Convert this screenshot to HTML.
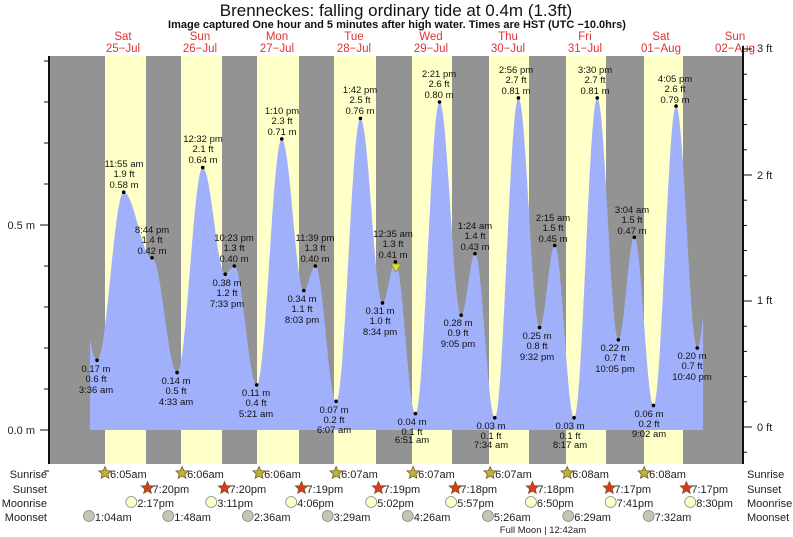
<!DOCTYPE html>
<html><head><meta charset="utf-8"><style>
html,body{margin:0;padding:0;background:#fff}
svg{display:block;font-family:"Liberation Sans",sans-serif}
.l{font-size:9.5px;fill:#111;text-anchor:middle}
.d{font-size:11.5px;fill:#d33;text-anchor:middle}
.b{font-size:11px;fill:#222}
</style></head><body>
<svg id="s" width="793" height="537" viewBox="0 0 793 537" xmlns="http://www.w3.org/2000/svg">
<rect x="49" y="56" width="694" height="408" fill="#939393"/>
<g fill="#ffffc8">
<rect x="105" y="56" width="41" height="408"/><rect x="181" y="56" width="41" height="408"/>
<rect x="257" y="56" width="42" height="408"/><rect x="334" y="56" width="42" height="408"/>
<rect x="412" y="56" width="40" height="408"/><rect x="489" y="56" width="40" height="408"/>
<rect x="566" y="56" width="40" height="408"/><rect x="644" y="56" width="39" height="408"/>
</g>
<path id="tide" fill="#a0b0fb" d=""/>
<text x="396" y="16" text-anchor="middle" font-size="17" fill="#111">Brenneckes: falling  ordinary tide at 0.4m (1.3ft)</text>
<text x="397" y="28" text-anchor="middle" font-size="11" font-weight="bold" fill="#111">Image captured One hour and 5 minutes after high water. Times are HST (UTC −10.0hrs)</text>
<g class="d">
<text x="123" y="40">Sat</text><text x="123" y="52">25−Jul</text>
<text x="200" y="40">Sun</text><text x="200" y="52">26−Jul</text>
<text x="277" y="40">Mon</text><text x="277" y="52">27−Jul</text>
<text x="354" y="40">Tue</text><text x="354" y="52">28−Jul</text>
<text x="431" y="40">Wed</text><text x="431" y="52">29−Jul</text>
<text x="508" y="40">Thu</text><text x="508" y="52">30−Jul</text>
<text x="585" y="40">Fri</text><text x="585" y="52">31−Jul</text>
<text x="661" y="40">Sat</text><text x="661" y="52">01−Aug</text>
<text x="735" y="40">Sun</text><text x="735" y="52">02−Aug</text>
</g>
<line x1="49" y1="56" x2="49" y2="464" stroke="#111" stroke-width="2"/>
<line x1="743" y1="46" x2="743" y2="464" stroke="#111" stroke-width="2"/>
<g id="ticks" stroke="#111" stroke-width="1"></g>
<g class="b">
<text x="35" y="229" text-anchor="end">0.5 m</text><text x="35" y="434" text-anchor="end">0.0 m</text>
<text x="757" y="52">3 ft</text><text x="757" y="179">2 ft</text><text x="757" y="304">1 ft</text><text x="757" y="431">0 ft</text>
</g>
<g id="dots" fill="#000"></g>
<polygon points="391,264 401,264 396,272" fill="#e6e020" stroke="#886" stroke-width="0.8"/>
<g class="l">
<text x="124" y="167">11:55 am</text><text x="124" y="177">1.9 ft</text><text x="124" y="188">0.58 m</text>
<text x="152" y="233">8:44 pm</text><text x="152" y="243">1.4 ft</text><text x="152" y="254">0.42 m</text>
<text x="203" y="142">12:32 pm</text><text x="203" y="152">2.1 ft</text><text x="203" y="163">0.64 m</text>
<text x="234" y="241">10:23 pm</text><text x="234" y="251">1.3 ft</text><text x="234" y="262">0.40 m</text>
<text x="282" y="114">1:10 pm</text><text x="282" y="124">2.3 ft</text><text x="282" y="135">0.71 m</text>
<text x="315" y="241">11:39 pm</text><text x="315" y="251">1.3 ft</text><text x="315" y="262">0.40 m</text>
<text x="360" y="93">1:42 pm</text><text x="360" y="103">2.5 ft</text><text x="360" y="114">0.76 m</text>
<text x="393" y="237">12:35 am</text><text x="393" y="247">1.3 ft</text><text x="393" y="258">0.41 m</text>
<text x="439" y="77">2:21 pm</text><text x="439" y="87">2.6 ft</text><text x="439" y="98">0.80 m</text>
<text x="475" y="229">1:24 am</text><text x="475" y="239">1.4 ft</text><text x="475" y="250">0.43 m</text>
<text x="516" y="73">2:56 pm</text><text x="516" y="83">2.7 ft</text><text x="516" y="94">0.81 m</text>
<text x="553" y="221">2:15 am</text><text x="553" y="231">1.5 ft</text><text x="553" y="242">0.45 m</text>
<text x="595" y="73">3:30 pm</text><text x="595" y="83">2.7 ft</text><text x="595" y="94">0.81 m</text>
<text x="632" y="213">3:04 am</text><text x="632" y="223">1.5 ft</text><text x="632" y="234">0.47 m</text>
<text x="675" y="82">4:05 pm</text><text x="675" y="92">2.6 ft</text><text x="675" y="103">0.79 m</text>
<text x="96" y="372">0.17 m</text><text x="96" y="382">0.6 ft</text><text x="96" y="393">3:36 am</text>
<text x="176" y="384">0.14 m</text><text x="176" y="394">0.5 ft</text><text x="176" y="405">4:33 am</text>
<text x="227" y="286">0.38 m</text><text x="227" y="296">1.2 ft</text><text x="227" y="307">7:33 pm</text>
<text x="256" y="396">0.11 m</text><text x="256" y="406">0.4 ft</text><text x="256" y="417">5:21 am</text>
<text x="302" y="302">0.34 m</text><text x="302" y="312">1.1 ft</text><text x="302" y="323">8:03 pm</text>
<text x="334" y="413">0.07 m</text><text x="334" y="423">0.2 ft</text><text x="334" y="433">6:07 am</text>
<text x="380" y="314">0.31 m</text><text x="380" y="324">1.0 ft</text><text x="380" y="335">8:34 pm</text>
<text x="412" y="425">0.04 m</text><text x="412" y="435">0.1 ft</text><text x="412" y="443">6:51 am</text>
<text x="458" y="326">0.28 m</text><text x="458" y="336">0.9 ft</text><text x="458" y="347">9:05 pm</text>
<text x="491" y="429">0.03 m</text><text x="491" y="439">0.1 ft</text><text x="491" y="448">7:34 am</text>
<text x="537" y="339">0.25 m</text><text x="537" y="349">0.8 ft</text><text x="537" y="360">9:32 pm</text>
<text x="570" y="429">0.03 m</text><text x="570" y="439">0.1 ft</text><text x="570" y="448">8:17 am</text>
<text x="615" y="351">0.22 m</text><text x="615" y="361">0.7 ft</text><text x="615" y="372">10:05 pm</text>
<text x="649" y="417">0.06 m</text><text x="649" y="427">0.2 ft</text><text x="649" y="437">9:02 am</text>
<text x="692" y="359">0.20 m</text><text x="692" y="369">0.7 ft</text><text x="692" y="380">10:40 pm</text>
</g>
<g class="b" text-anchor="end" font-size="11.5">
<text x="47" y="478">Sunrise</text><text x="47" y="493">Sunset</text><text x="47" y="507">Moonrise</text><text x="47" y="521">Moonset</text>
</g>
<g class="b" font-size="11.5">
<text x="747" y="478">Sunrise</text><text x="747" y="493">Sunset</text><text x="747" y="507">Moonrise</text><text x="747" y="521">Moonset</text>
</g>
<g id="ev" class="b" font-size="11"></g>
<text x="543" y="533" text-anchor="middle" font-size="9.5" fill="#222">Full Moon | 12:42am</text>
</svg>
<script>
var ex=[[-5,0.5],[3.6,.17],[11.917,.58],[20.733,.42],[28.55,.14],[36.533,.64],[43.55,.38],[46.383,.40],[53.35,.11],[61.167,.71],[68.05,.34],[71.65,.40],[78.117,.07],[85.7,.76],[92.567,.31],[96.583,.41],[102.85,.04],[110.35,.80],[117.083,.28],[121.4,.43],[127.567,.03],[134.933,.81],[141.533,.25],[146.25,.45],[152.283,.03],[159.5,.81],[166.083,.22],[171.067,.47],[177.033,.06],[184.083,.79],[190.667,.20],[196,.50]];
function X(t){return 85.5+t*3.2083}function Y(v){return 430-410*v}
function val(t){for(var i=0;i<ex.length-1;i++){var a=ex[i],b=ex[i+1];if(t>=a[0]&&t<=b[0]){var f=(t-a[0])/(b[0]-a[0]);return a[1]+(b[1]-a[1])*(1-Math.cos(Math.PI*f))/2;}}return 0.3}
var t0=1.4,t1=192.5,d="M"+X(t0).toFixed(1)+",430";
for(var t=t0;t<=t1;t+=0.1)d+="L"+X(t).toFixed(1)+","+Y(val(t)).toFixed(1);
d+="L"+X(t1).toFixed(1)+",430Z";document.getElementById("tide").setAttribute("d",d);
var ns="http://www.w3.org/2000/svg",g=document.getElementById("dots");
for(var i=1;i<ex.length-1;i++){var c=document.createElementNS(ns,"circle");c.setAttribute("cx",X(ex[i][0]));c.setAttribute("cy",Y(ex[i][1]));c.setAttribute("r",1.8);g.appendChild(c);}
var tk=document.getElementById("ticks");
function ln(x1,y1,x2,y2){var l=document.createElementNS(ns,"line");l.setAttribute("x1",x1);l.setAttribute("y1",y1);l.setAttribute("x2",x2);l.setAttribute("y2",y2);tk.appendChild(l);}
for(var k=-0.1;k<=0.92;k+=0.1){var y=Y(k);ln(k>-0.01&&k<0.01||Math.abs(k-0.5)<0.01?40:44,y,49,y);}
for(var k=-1;k<=15;k++){var y=427-25.2*k;ln(743,y,k%5==0?752:747,y);}
var evg=document.getElementById("ev");
function star(cx,cy,fill){var p="";for(var i=0;i<10;i++){var r=i%2?3:6.5,a=-Math.PI/2+i*Math.PI/5;p+=(cx+r*Math.cos(a)).toFixed(1)+","+(cy+r*Math.sin(a)).toFixed(1)+" ";}var s=document.createElementNS(ns,"polygon");s.setAttribute("points",p);s.setAttribute("fill",fill);s.setAttribute("stroke","#7a5a20");s.setAttribute("stroke-width","0.8");evg.appendChild(s);}
function circ(cx,cy,fill){var c=document.createElementNS(ns,"circle");c.setAttribute("cx",cx);c.setAttribute("cy",cy);c.setAttribute("r",5.5);c.setAttribute("fill",fill);c.setAttribute("stroke","#888");c.setAttribute("stroke-width","0.8");evg.appendChild(c);}
function tx(x,y,s){var t=document.createElementNS(ns,"text");t.setAttribute("x",x);t.setAttribute("y",y);t.textContent=s;evg.appendChild(t);}
function hm(s){var m=s.match(/(\d+):(\d+)(am|pm)/);var h=+m[1]%12;if(m[3]=="pm")h+=12;return h+(+m[2])/60;}
var sr=["6:05am","6:06am","6:06am","6:07am","6:07am","6:07am","6:08am","6:08am"],ss=["7:20pm","7:20pm","7:19pm","7:19pm","7:18pm","7:18pm","7:17pm","7:17pm"],mr=["2:17pm","3:11pm","4:06pm","5:02pm","5:57pm","6:50pm","7:41pm","8:30pm"],ms=["1:04am","1:48am","2:36am","3:29am","4:26am","5:26am","6:29am","7:32am"];
for(var i=0;i<8;i++){var x;
x=X(i*24+hm(sr[i]));star(x,473,"#b8b43c");tx(x+5,478,sr[i]);
x=X(i*24+hm(ss[i]));star(x,488,"#d83a20");tx(x+5,493,ss[i]);
x=X(i*24+hm(mr[i]));circ(x,502,"#ffffc8");tx(x+6,507,mr[i]);
x=X(i*24+hm(ms[i]));circ(x,516,"#c8c4b4");tx(x+6,521,ms[i]);}
</script>
</body></html>
